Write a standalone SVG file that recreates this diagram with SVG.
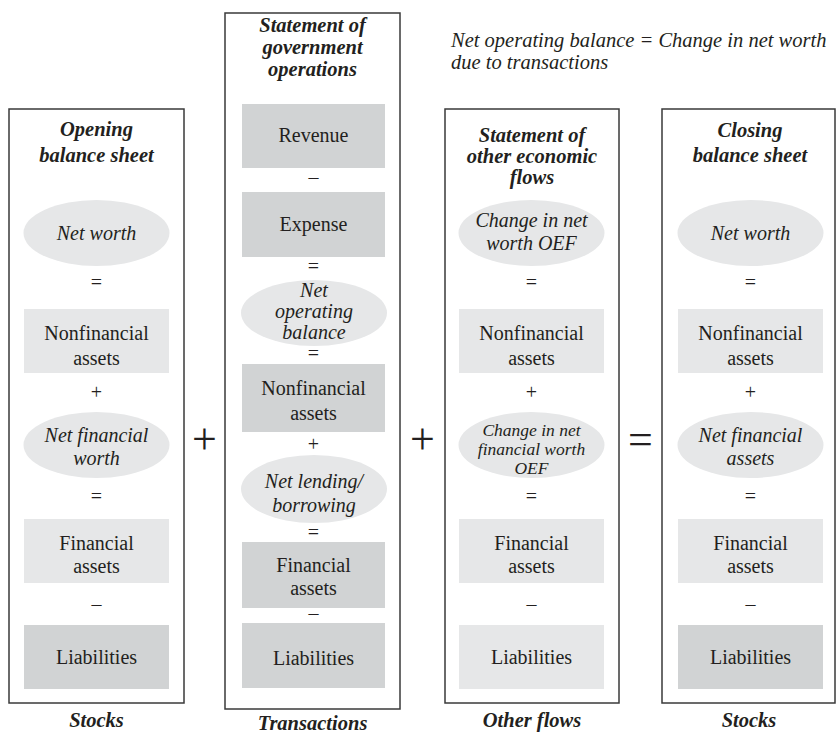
<svg xmlns="http://www.w3.org/2000/svg" width="836" height="746" viewBox="0 0 836 746" font-family="'Liberation Serif', 'Times New Roman', 'DejaVu Serif', serif">
<style>
text{font-family:'Liberation Serif','Times New Roman','DejaVu Serif',serif;fill:#231f20;text-anchor:middle}
.t{font-size:20.5px;font-weight:bold;font-style:italic}
.b{font-size:20px}
.i{font-size:20px;font-style:italic}
.s{font-size:17.5px;font-style:italic}
.op{font-size:20px}
.big{font-size:44px}
.frame{fill:#fff;stroke:#3a3a3a;stroke-width:1.5}
.lt{fill:#e6e7e8}
.dk{fill:#d1d3d4}
.note{font-size:20.5px;font-style:italic;text-anchor:start}
</style>
<rect width="836" height="746" fill="#fff"/>
<g id="col-opening">
<rect class="frame" x="9" y="109" width="175" height="594"/>
<text class="t" x="96.5" y="136">Opening</text>
<text class="t" x="96.5" y="162">balance sheet</text>
<g id="opening-networth"><ellipse class="lt" cx="96.5" cy="233" rx="73" ry="33"/><text class="i" x="96.5" y="240">Net worth</text></g>
<text class="op" x="96.5" y="289">=</text>
<g id="opening-nfa"><rect class="lt" x="24" y="309" width="145" height="64"/><text class="b" x="96.5" y="340">Nonfinancial</text><text class="b" x="96.5" y="365">assets</text></g>
<text class="op" x="96.5" y="399">+</text>
<g id="opening-nfw"><ellipse class="lt" cx="96.5" cy="445" rx="73" ry="33"/><text class="i" x="96.5" y="442">Net financial</text><text class="i" x="96.5" y="465">worth</text></g>
<text class="op" x="96.5" y="503">=</text>
<g id="opening-fa"><rect class="lt" x="24" y="519" width="145" height="64"/><text class="b" x="96.5" y="550">Financial</text><text class="b" x="96.5" y="573">assets</text></g>
<text class="op" x="96.5" y="611">–</text>
<g id="opening-liab"><rect class="dk" x="24" y="625" width="145" height="64"/><text class="b" x="96.5" y="664">Liabilities</text></g>
<text class="t" x="96.5" y="727">Stocks</text>
</g>
<g id="col-transactions">
<rect class="frame" x="225" y="13" width="175" height="696"/>
<text class="t" x="312.5" y="32">Statement of</text>
<text class="t" x="312.5" y="54">government</text>
<text class="t" x="312.5" y="76">operations</text>
<g id="tr-revenue"><rect class="dk" x="242" y="104" width="143" height="64"/><text class="b" x="313.5" y="142">Revenue</text></g>
<text class="op" x="313.5" y="184">–</text>
<g id="tr-expense"><rect class="dk" x="242" y="192" width="143" height="65"/><text class="b" x="313.5" y="231">Expense</text></g>
<text class="op" x="313.5" y="273">=</text>
<g id="tr-nob"><ellipse class="lt" cx="314" cy="313" rx="73" ry="33"/><text class="i" x="314" y="297">Net</text><text class="i" x="314" y="318">operating</text><text class="i" x="314" y="339">balance</text></g>
<text class="op" x="313.5" y="360">=</text>
<g id="tr-nfa"><rect class="dk" x="242" y="364" width="143" height="68"/><text class="b" x="313.5" y="395">Nonfinancial</text><text class="b" x="313.5" y="420">assets</text></g>
<text class="op" x="313.5" y="451">+</text>
<g id="tr-nlb"><ellipse class="lt" cx="314" cy="489" rx="73" ry="34"/><text class="i" x="314" y="488">Net lending/</text><text class="i" x="314" y="512">borrowing</text></g>
<text class="op" x="313.5" y="539">=</text>
<g id="tr-fa"><rect class="dk" x="242" y="542" width="143" height="66"/><text class="b" x="313.5" y="572">Financial</text><text class="b" x="313.5" y="595">assets</text></g>
<text class="op" x="313.5" y="620">–</text>
<g id="tr-liab"><rect class="dk" x="242" y="623" width="143" height="65"/><text class="b" x="313.5" y="665">Liabilities</text></g>
<text class="t" x="312.5" y="730">Transactions</text>
</g>
<g id="col-oef">
<rect class="frame" x="445" y="109" width="174" height="594"/>
<text class="t" x="532" y="142">Statement of</text>
<text class="t" x="532" y="163">other economic</text>
<text class="t" x="532" y="184">flows</text>
<g id="oef-cnw"><ellipse class="lt" cx="531.5" cy="233" rx="73" ry="33"/><text class="i" x="531.5" y="227">Change in net</text><text class="i" x="531.5" y="250">worth OEF</text></g>
<text class="op" x="531.5" y="289">=</text>
<g id="oef-nfa"><rect class="lt" x="459" y="309" width="145" height="64"/><text class="b" x="531.5" y="340">Nonfinancial</text><text class="b" x="531.5" y="365">assets</text></g>
<text class="op" x="531.5" y="399">+</text>
<g id="oef-cnfw"><ellipse class="lt" cx="531.5" cy="445" rx="73" ry="33"/><text class="s" x="531.5" y="436">Change in net</text><text class="s" x="531.5" y="455">financial worth</text><text class="s" x="531.5" y="474">OEF</text></g>
<text class="op" x="531.5" y="503">=</text>
<g id="oef-fa"><rect class="lt" x="459" y="519" width="145" height="64"/><text class="b" x="531.5" y="550">Financial</text><text class="b" x="531.5" y="573">assets</text></g>
<text class="op" x="531.5" y="611">–</text>
<g id="oef-liab"><rect class="lt" x="459" y="625" width="145" height="64"/><text class="b" x="531.5" y="664">Liabilities</text></g>
<text class="t" x="532" y="727">Other flows</text>
</g>
<g id="col-closing">
<rect class="frame" x="662" y="109" width="173" height="594"/>
<text class="t" x="750" y="137">Closing</text>
<text class="t" x="750" y="162">balance sheet</text>
<g id="closing-networth"><ellipse class="lt" cx="750.5" cy="233" rx="73" ry="33"/><text class="i" x="750.5" y="240">Net worth</text></g>
<text class="op" x="750.5" y="289">=</text>
<g id="closing-nfa"><rect class="lt" x="678" y="309" width="145" height="64"/><text class="b" x="750.5" y="340">Nonfinancial</text><text class="b" x="750.5" y="365">assets</text></g>
<text class="op" x="750.5" y="399">+</text>
<g id="closing-nfa2"><ellipse class="lt" cx="750.5" cy="445" rx="73" ry="33"/><text class="i" x="750.5" y="442">Net financial</text><text class="i" x="750.5" y="465">assets</text></g>
<text class="op" x="750.5" y="503">=</text>
<g id="closing-fa"><rect class="lt" x="678" y="519" width="145" height="64"/><text class="b" x="750.5" y="550">Financial</text><text class="b" x="750.5" y="573">assets</text></g>
<text class="op" x="750.5" y="611">–</text>
<g id="closing-liab"><rect class="dk" x="678" y="625" width="145" height="64"/><text class="b" x="750.5" y="664">Liabilities</text></g>
<text class="t" x="749" y="727">Stocks</text>
</g>
<g id="connectors">
<text class="big" x="204.5" y="454">+</text>
<text class="big" x="422.5" y="454">+</text>
<text class="big" x="640.5" y="454">=</text>
</g>
<g id="note">
<text class="note" x="451" y="47">Net operating balance = Change in net worth</text>
<text class="note" x="451" y="69">due to transactions</text>
</g>
</svg>
